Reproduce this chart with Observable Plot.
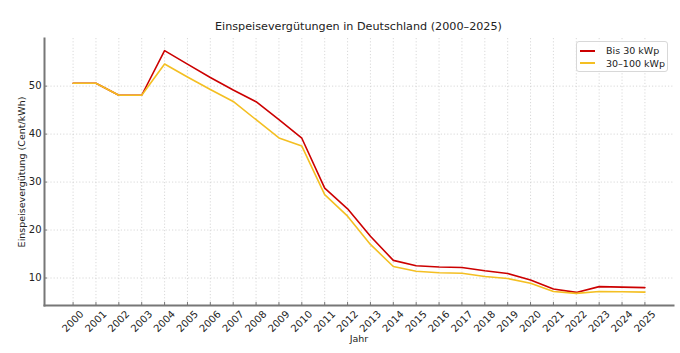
<!DOCTYPE html>
<html><head><meta charset="utf-8">
<script src="https://cdn.jsdelivr.net/npm/d3@7"></script>
<script src="https://cdn.jsdelivr.net/npm/@observablehq/plot@0.6"></script>
<style>
html,body{margin:0;padding:0;background:#fff;}
#wrap{position:relative;width:680px;height:353px;font-family:"DejaVu Sans",sans-serif;}
#title{position:absolute;left:0;width:717px;top:20px;text-align:center;font-size:11.2px;line-height:14px;color:#222;}
#legend{position:absolute;left:576px;top:41px;width:90px;height:29px;border:1px solid #d8d8d8;border-radius:3px;background:rgba(255,255,255,0.85);font-size:9.5px;color:#222;}
.row{position:absolute;left:3px;height:12px;line-height:12px;white-space:nowrap;}
.sw{display:inline-block;width:15px;height:0;border-top:2px solid;vertical-align:middle;margin-right:11px;position:relative;top:-1px;}
svg{position:absolute;left:0;top:0;}
</style></head>
<body><div id="wrap"></div>
<script>
const years = [2000,2001,2002,2003,2004,2005,2006,2007,2008,2009,2010,2011,2012,2013,2014,2015,2016,2017,2018,2019,2020,2021,2022,2023,2024,2025];
const bis30 = [50.6,50.6,48.1,48.1,57.4,54.6,51.8,49.2,46.75,43.0,39.14,28.74,24.43,18.7,13.68,12.56,12.31,12.2,11.5,10.95,9.6,7.7,7.0,8.2,8.1,8.0];
const bis100 = [50.6,50.6,48.1,48.1,54.6,51.9,49.3,46.8,43.0,39.2,37.5,27.4,22.9,17.0,12.4,11.4,11.1,11.0,10.3,9.9,8.9,7.2,6.8,7.2,7.15,7.05];
const seriesNames = ["Bis 30 kWp", "30–100 kWp"];
const seriesColors = ["#cc0000", "#f4bf22"];
const yTicks = [10,20,30,40,50];
const titleText = "Einspeisevergütungen in Deutschland (2000–2025)";
const xLabel = "Jahr";
const yLabel = "Einspeisevergütung (Cent/kWh)";

const rows = [];
years.forEach((y,i)=>{ rows.push({year:y, value:bis30[i], series:seriesNames[0]}); });
years.forEach((y,i)=>{ rows.push({year:y, value:bis100[i], series:seriesNames[1]}); });
const lo = Math.min(...bis30, ...bis100), hi = Math.max(...bis30, ...bis100);
const pad = (hi-lo)*0.05;
const xpad = (years[years.length-1]-years[0])*0.05;

const chart = Plot.plot({
  width: 680, height: 353,
  marginLeft: 44, marginRight: 7, marginTop: 38, marginBottom: 48,
  style: {fontFamily: "DejaVu Sans, sans-serif", fontSize: "9.5px", color: "#222", background: "#fff"},
  x: {domain: [years[0]-xpad, years[years.length-1]+xpad]},
  y: {domain: [lo-pad, hi+pad]},
  color: {domain: seriesNames, range: seriesColors},
  marks: [
    Plot.gridX(years, {stroke: "#cfcfcf", strokeOpacity: 1, strokeDasharray: "1.2,2", strokeWidth: 0.8}),
    Plot.gridY(yTicks, {stroke: "#cfcfcf", strokeOpacity: 1, strokeDasharray: "1.2,2", strokeWidth: 0.8}),
    Plot.axisX(years, {tickRotate: -45, tickFormat: d => String(d), tickSize: 0, tickPadding: 4, dx: 9, dy: 3, label: null, fontSize: "10px"}),
    Plot.axisX(years, {text: null, tickSize: 3, dy: -3, stroke: "#777", label: xLabel, labelAnchor: "center", labelArrow: "none", labelOffset: 36, fontSize: "9.5px"}),
    Plot.axisY(yTicks, {tickSize: 0, tickPadding: 3, label: null, fontSize: "10px"}),
    Plot.axisY(yTicks, {text: null, tickSize: 3, dx: 3, stroke: "#777", label: yLabel, labelAnchor: "center", labelArrow: "none", labelOffset: 26, fontSize: "9.5px"}),
    Plot.line(rows.filter(d=>d.series===seriesNames[0]), {x: "year", y: "value", stroke: "series", strokeWidth: 1.6}),
    Plot.line(rows.filter(d=>d.series===seriesNames[1]), {x: "year", y: "value", stroke: "series", strokeWidth: 1.6}),
    Plot.frame({anchor: "left", stroke: "#777", strokeWidth: 2}),
    Plot.frame({anchor: "bottom", stroke: "#777", strokeWidth: 2})
  ]
});
const wrap = document.getElementById("wrap");
wrap.appendChild(chart);
const t = document.createElement("div"); t.id="title"; t.textContent = titleText; wrap.appendChild(t);
const lg = document.createElement("div"); lg.id="legend";
seriesNames.forEach((n,i)=>{
  const r = document.createElement("div"); r.className="row"; r.style.top = (3+i*12.5)+"px";
  const s = document.createElement("span"); s.className="sw"; s.style.borderColor = seriesColors[i];
  r.appendChild(s); r.appendChild(document.createTextNode(n)); lg.appendChild(r);
});
wrap.appendChild(lg);
</script></body></html>
